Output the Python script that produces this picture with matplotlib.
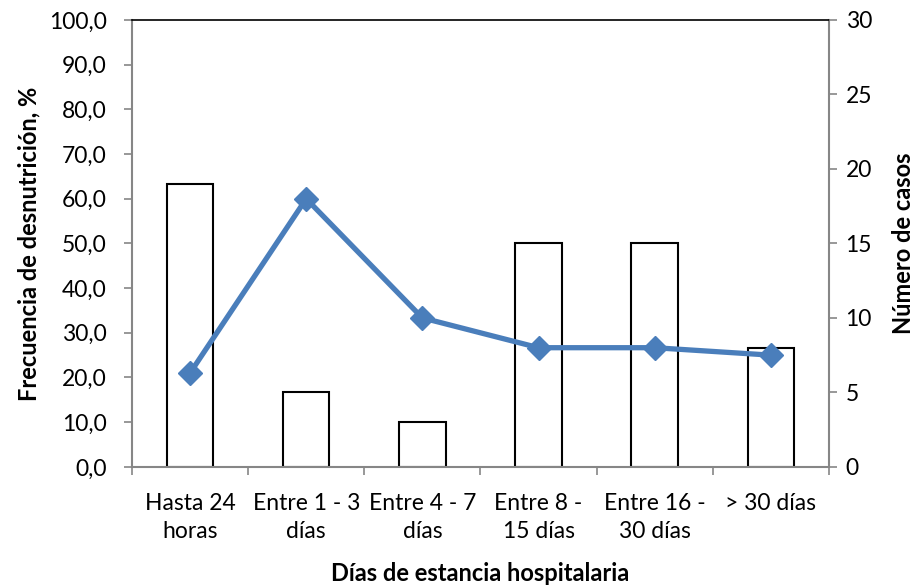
import matplotlib
matplotlib.use("Agg")
import matplotlib.pyplot as plt
import numpy as np

# --- data ---
categorias = [
    "Hasta 24\nhoras",
    "Entre 1 - 3\ndías",
    "Entre 4 - 7\ndías",
    "Entre 8 -\n15 días",
    "Entre 16 -\n30 días",
    "> 30 días",
]
frecuencia_pct = [63.3, 16.7, 10.0, 50.0, 50.0, 26.7]   # bars, left axis
numero_casos = [6.3, 18, 10, 8, 8, 7.5]                 # line, right axis
left_ticks = np.arange(0, 101, 10)
right_ticks = np.arange(0, 31, 5)

plt.rcParams["font.family"] = ["Lato", "DejaVu Sans"]
grey = "#868686"
blue = "#4A7EBB"
fs = 16.5
fs_lab = 17

fig = plt.figure(figsize=(9.19, 5.88), dpi=100)
ax = fig.add_axes([0.1436, 0.206, 0.7584, 0.760])
x = np.arange(len(categorias))

ax.bar(x, frecuencia_pct, width=0.4, color="white", edgecolor="black",
       linewidth=1.5, zorder=2)
ax.set_xlim(-0.5, len(categorias) - 0.5)
ax.set_ylim(0, 100)
ax.set_yticks(left_ticks)
ax.set_yticklabels([f"{v:.1f}".replace(".", ",") for v in left_ticks])
ax.set_xticks(x)
ax.set_xticklabels(categorias, linespacing=1.42, va="top")
ax.set_xticks(np.arange(-0.5, len(categorias)), minor=True)
ax.tick_params(axis="x", which="major", length=0, pad=19, labelsize=fs)
ax.tick_params(axis="x", which="minor", length=6, color=grey, width=1.2)
ax.tick_params(axis="y", length=6, color=grey, width=1.2, labelsize=fs, pad=12)
for s in ["left", "bottom", "right"]:
    ax.spines[s].set_color(grey)
    ax.spines[s].set_linewidth(1.5)
ax.spines["top"].set_color("black")
ax.spines["top"].set_linewidth(1.2)
ax.set_ylabel("Frecuencia de desnutrición, %", fontsize=fs_lab,
              fontweight="bold", labelpad=6)
ax.set_xlabel("Días de estancia hospitalaria", fontsize=fs_lab,
              fontweight="bold", labelpad=14)

ax2 = ax.twinx()
ax2.plot(x, numero_casos, color=blue, linewidth=3.8, marker="D",
         markersize=12.5, zorder=3)
ax2.set_ylim(0, 30)
ax2.set_yticks(right_ticks)
ax2.tick_params(axis="y", length=6, color=grey, width=1.2, labelsize=fs, pad=6)
for s in ["left", "bottom", "right", "top"]:
    ax2.spines[s].set_visible(False)
ax2.set_ylabel("Número de casos", fontsize=fs_lab, fontweight="bold",
               labelpad=14)

fig.savefig("out.png", dpi=100)
